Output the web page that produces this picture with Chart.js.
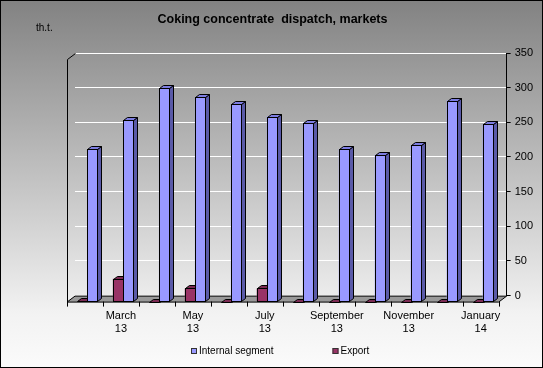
<!DOCTYPE html>
<html>
<head>
<meta charset="utf-8">
<script src="https://cdn.jsdelivr.net/npm/chart.js@4/dist/chart.umd.min.js"></script>
<style>
  html, body { margin: 0; padding: 0; background: #fff; }
  #wrap { width: 543px; height: 368px; }
</style>
</head>
<body>
<div id="wrap"><canvas id="dispatchChart" width="543" height="368"></canvas></div>
<script>
// months Feb 2013 .. Jan 2014
const monthNames = ['February', 'March', 'April', 'May', 'June', 'July', 'August',
    'September', 'October', 'November', 'December', 'January'];
const monthYears = ['13', '13', '13', '13', '13', '13', '13', '13', '13', '13', '13', '14'];

// thousand tonnes
const internalSegment = [220, 262, 308, 295, 285, 267, 258, 220, 212, 226, 290, 256];
const exportValues = [1, 33, 0, 19, 0, 19, 0, 0, 0, 0, 0, 0];

const yMax = 350;
const yStep = 50;

const chartTitle = 'Coking concentrate  dispatch, markets';
const unitLabel = 'th.t.';

const FONT = "'Liberation Sans', Arial, sans-serif";
Chart.defaults.font.family = FONT;
Chart.defaults.color = '#000';

// 3D look: floor depth and bar depth
const FLOOR_DX = 8, FLOOR_DY = 6;
const BAR_SHIFT_X = -6, BAR_SHIFT_Y = 6;
const BAR_DX = 4, BAR_DY = 3;

const faceColors = {
    'Export': { side: '#5e1f3e', top: '#7a2a52' },
    'Internal segment': { side: '#5a5aa8', top: '#7c7ce0' }
};

const backgroundPlugin = {
    id: 'background',
    beforeDraw(chart) {
        const { ctx, width, height } = chart;
        const g = ctx.createLinearGradient(0, 0, 0, height);
        g.addColorStop(0, '#828282');
        g.addColorStop(0.85, '#f2f2f2');
        g.addColorStop(1, '#fbfbfb');
        ctx.save();
        ctx.fillStyle = g;
        ctx.fillRect(0, 0, width, height);
        // title centred on the whole picture
        ctx.fillStyle = '#000';
        ctx.font = 'bold 12.5px ' + FONT;
        ctx.textAlign = 'center';
        ctx.textBaseline = 'middle';
        ctx.fillText(chartTitle, width / 2 + 1, 20);
        ctx.restore();
    },
    afterDraw(chart) {
        const { ctx, width, height } = chart;
        ctx.save();
        ctx.strokeStyle = '#000';
        ctx.lineWidth = 1;
        ctx.strokeRect(0.5, 0.5, width - 1, height - 1);
        ctx.restore();
    }
};

function drawBar3d(ctx, x0, x1, yTop, yBase, front, side, top) {
    ctx.lineWidth = 1;
    ctx.strokeStyle = '#000';
    // side face
    ctx.beginPath();
    ctx.moveTo(x1, yTop);
    ctx.lineTo(x1 + BAR_DX, yTop - BAR_DY);
    ctx.lineTo(x1 + BAR_DX, yBase - BAR_DY);
    ctx.lineTo(x1, yBase);
    ctx.closePath();
    ctx.fillStyle = side;
    ctx.fill();
    ctx.stroke();
    // top face
    ctx.beginPath();
    ctx.moveTo(x0, yTop);
    ctx.lineTo(x0 + BAR_DX, yTop - BAR_DY);
    ctx.lineTo(x1 + BAR_DX, yTop - BAR_DY);
    ctx.lineTo(x1, yTop);
    ctx.closePath();
    ctx.fillStyle = top;
    ctx.fill();
    ctx.stroke();
    // front face
    if (yBase - yTop > 0) {
        ctx.fillStyle = front;
        ctx.fillRect(x0, yTop, x1 - x0, yBase - yTop);
        ctx.strokeRect(x0, yTop, x1 - x0, yBase - yTop);
    }
}

const threeDPlugin = {
    id: 'threeD',
    beforeDatasetsDraw(chart) {
        const { ctx } = chart;
        const { left, right, top, bottom } = chart.chartArea;
        ctx.save();
        // floor
        ctx.beginPath();
        ctx.moveTo(left, bottom + 0.5);
        ctx.lineTo(right, bottom + 0.5);
        ctx.lineTo(right - FLOOR_DX, bottom + FLOOR_DY + 0.5);
        ctx.lineTo(left - FLOOR_DX, bottom + FLOOR_DY + 0.5);
        ctx.closePath();
        ctx.fillStyle = '#999999';
        ctx.fill();
        ctx.strokeStyle = '#000';
        ctx.lineWidth = 1;
        ctx.stroke();
        // left wall edge
        ctx.beginPath();
        ctx.moveTo(left + 0.5, top + 0.5);
        ctx.lineTo(left - FLOOR_DX + 0.5, top + FLOOR_DY + 0.5);
        ctx.lineTo(left - FLOOR_DX + 0.5, bottom + FLOOR_DY + 0.5);
        ctx.stroke();
        ctx.restore();

        ctx.save();
        ctx.translate(BAR_SHIFT_X, BAR_SHIFT_Y);
    },
    afterDatasetsDraw(chart) {
        const { ctx } = chart;
        ctx.restore();
        ctx.save();
        ctx.translate(BAR_SHIFT_X + 0.5, BAR_SHIFT_Y + 0.5);
        const n = chart.data.labels.length;
        for (let i = 0; i < n; i++) {
            chart.data.datasets.forEach((ds, di) => {
                const el = chart.getDatasetMeta(di).data[i];
                const p = el.getProps(['x', 'y', 'base', 'width'], true);
                const x0 = Math.round(p.x - p.width / 2);
                const x1 = Math.round(p.x + p.width / 2);
                const c = faceColors[ds.label];
                drawBar3d(ctx, x0, x1, Math.round(p.y), Math.round(p.base), ds.backgroundColor, c.side, c.top);
            });
        }
        ctx.restore();
    },
    afterDraw(chart) {
        const { ctx } = chart;
        const { left, right, bottom } = chart.chartArea;
        const n = chart.data.labels.length;
        const w = (right - left) / n;
        ctx.save();
        ctx.strokeStyle = '#000';
        ctx.lineWidth = 1;
        // category ticks on the front edge of the floor
        for (let i = 0; i <= n; i++) {
            const x = Math.round(left + i * w - FLOOR_DX) + 0.5;
            ctx.beginPath();
            ctx.moveTo(x, bottom + FLOOR_DY);
            ctx.lineTo(x, bottom + FLOOR_DY + 5);
            ctx.stroke();
        }
        // unit label
        ctx.fillStyle = '#000';
        ctx.font = '10px ' + FONT;
        ctx.textBaseline = 'middle';
        ctx.fillText(unitLabel, 36, 28);

        // legend: Internal segment first, then Export
        const items = ['Internal segment', 'Export'].map(lbl =>
            chart.data.datasets.find(d => d.label === lbl));
        ctx.font = '10px ' + FONT;
        const widths = items.map(d => 8 + ctx.measureText(d.label).width);
        const gap = 59;
        const total = widths[0] + gap + widths[1];
        let lx = Math.round(chart.width / 2 + 9 - total / 2);
        const ly = 351;
        items.forEach((d, k) => {
            ctx.fillStyle = d.backgroundColor;
            ctx.fillRect(lx, ly - 3, 6, 6);
            ctx.strokeStyle = '#333';
            ctx.strokeRect(lx + 0.5, ly - 2.5, 5, 5);
            ctx.fillStyle = '#000';
            ctx.fillText(d.label, lx + 8, ly);
            lx += widths[k] + gap;
        });
        ctx.restore();
    }
};

new Chart(document.getElementById('dispatchChart'), {
    type: 'bar',
    data: {
        labels: monthNames.map((m, i) => m + ' ' + monthYears[i]),
        datasets: [{
            label: 'Export',
            data: exportValues,
            backgroundColor: '#993366',
            borderColor: '#000',
            borderWidth: 0
        }, {
            label: 'Internal segment',
            data: internalSegment,
            backgroundColor: '#9999FF',
            borderColor: '#000',
            borderWidth: 0
        }]
    },
    options: {
        responsive: false,
        animation: false,
        devicePixelRatio: 1,
        categoryPercentage: 0.563,
        barPercentage: 1,
        layout: {
            padding: { left: 75, right: 6, top: 53, bottom: 26 }
        },
        plugins: {
            legend: { display: false },
            tooltip: { enabled: false },
            title: { display: false }
        },
        scales: {
            x: {
                grid: { display: false },
                border: { display: false },
                ticks: {
                    autoSkip: false,
                    maxRotation: 0,
                    labelOffset: -8,
                    padding: 6,
                    font: { size: 11 },
                    callback: (v, i) => i % 2 === 1 ? [monthNames[i], monthYears[i]] : ''
                }
            },
            y: {
                position: 'right',
                min: 0,
                max: yMax,
                grid: {
                    color: '#ffffff',
                    lineWidth: 1,
                    tickColor: '#000',
                    tickLength: 4
                },
                border: { display: true, color: '#000' },
                ticks: {
                    stepSize: yStep,
                    padding: 4,
                    font: { size: 11 }
                }
            }
        }
    },
    plugins: [backgroundPlugin, threeDPlugin]
});
</script>
</body>
</html>
